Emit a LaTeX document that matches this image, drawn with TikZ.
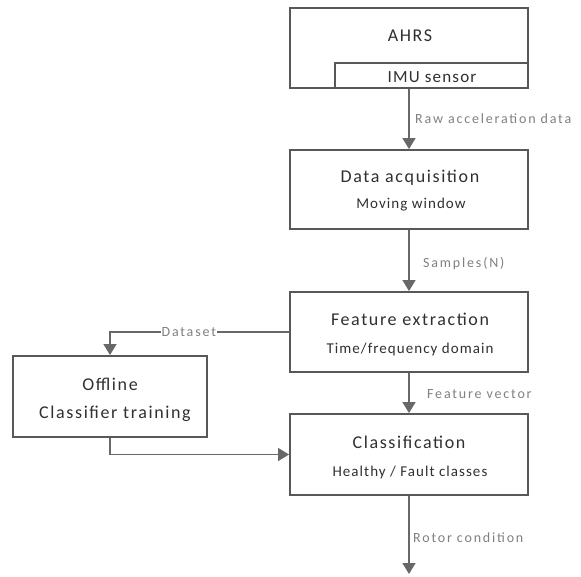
\documentclass[tikz,border=0pt]{standalone}
\usepackage{fontspec}
\setmainfont{Carlito}
\newfontfamily\titlefont[LetterSpace=9]{Carlito}
\newfontfamily\subfont[LetterSpace=7]{Carlito}
\newfontfamily\tagfont[LetterSpace=13]{Carlito}
\usetikzlibrary{arrows.meta}
\definecolor{boxline}{HTML}{585858}
\definecolor{flowline}{HTML}{686868}
\definecolor{labeltext}{HTML}{808080}
\definecolor{boxtext}{HTML}{303030}
\tikzset{
  x=1pt, y=-1pt,
  block/.style={draw=boxline, line width=1.9pt, fill=white, inner sep=0pt,
    minimum width=238pt, minimum height=80pt},
  title/.style={anchor=base, inner sep=0pt, text=boxtext,
    font=\titlefont\fontsize{18}{20}\selectfont},
  subtitle/.style={anchor=base, inner sep=0pt, text=boxtext,
    font=\subfont\fontsize{15}{17}\selectfont},
  flow/.style={draw=flowline, line width=1.4pt,
    -{Triangle[length=11pt,width=13pt]}},
  flowlabel/.style={anchor=base west, inner sep=0pt, text=labeltext,
    font=\tagfont\fontsize{14}{16}\selectfont},
}
\begin{document}
\begin{tikzpicture}
\useasboundingbox (0,0) rectangle (581,576);

% sensor unit with the IMU strip along its lower edge
\node[block] (ahrs) at (409,48) {};
\node[title] (ahrsT) at (410,41) {AHRS};
\node[draw=boxline, line width=1.9pt, inner sep=0pt, minimum width=193pt,
  minimum height=25pt] (imu) at (431.5,75.5) {};
\node[title, font=\subfont\fontsize{17}{19}\selectfont] (imuT) at (432,82) {IMU sensor};

% processing chain
\node[block, minimum height=79pt] (acq) at (409,189.5) {};
\node[title] (acqT) at (410,182) {Data acquisition};
\node[subtitle] (acqS) at (411,208) {Moving window};

\node[block] (feat) at (409,332) {};
\node[title] (featT) at (410,325) {Feature extraction};
\node[subtitle] (featS) at (410,353) {Time/frequency domain};

\node[block, minimum height=81pt] (cls) at (409,454.5) {};
\node[title] (clsT) at (409,448) {Classification};
\node[subtitle] (clsS) at (410,476) {Healthy / Fault classes};

\node[block, minimum width=194pt, minimum height=81pt] (train) at (110,396.5) {};
\node[title] (trainT) at (110,390) {Offline};
\node[title] (trainS) at (115,418) {Classifier training};

\coordinate (out) at (409,574);

% connectors
\draw[flow] (imu.south -| ahrs.south) -- (acq.north);
\node[flowlabel] (rawL) at (415,123) {Raw acceleration data};
\draw[flow] (acq.south) -- (feat.north);
\node[flowlabel] (smpL) at (423,267) {Samples(N)};
\draw[flow] (feat.south) -- (cls.north);
\node[flowlabel] (fvL) at (427,398) {Feature vector};
\draw[flow] (cls.south) -- (out);
\node[flowlabel] (rotL) at (413,542) {Rotor condition};
\draw[flow] (feat.west) -| (train.north)
  node[pos=0.28, fill=white, text=labeltext, inner xsep=1pt, inner ysep=1pt,
    font=\tagfont\fontsize{14}{16}\selectfont] (dsL) {Dataset};
\draw[flow] (train.south) |- (cls.west);
\end{tikzpicture}
\end{document}
